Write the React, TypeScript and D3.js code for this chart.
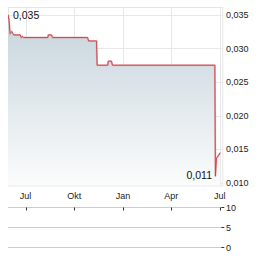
import React from "react";
import * as d3 from "d3";

const priceDates = [
  "2023-05-29", "2023-05-31", "2023-06-02", "2023-06-05", "2023-06-07", "2023-06-09",
  "2023-06-21", "2023-06-23", "2023-06-25", "2023-06-27", "2023-08-12", "2023-08-13",
  "2023-08-19", "2023-08-21", "2023-10-26", "2023-10-28", "2023-11-12", "2023-11-13",
  "2023-12-03", "2023-12-04", "2023-12-10", "2023-12-12", "2024-06-22", "2024-06-23",
  "2024-06-25", "2024-06-28", "2024-07-02",
];
const priceValues = [
  0.0350, 0.0342, 0.0322, 0.0325, 0.0322, 0.0320,
  0.0320, 0.0316, 0.0318, 0.0316, 0.0316, 0.0320,
  0.0320, 0.0316, 0.0316, 0.0311, 0.0311, 0.0275,
  0.0275, 0.0281, 0.0281, 0.0275, 0.0275, 0.0110,
  0.0137, 0.0140, 0.0145,
];
const priceTicks = [0.010, 0.015, 0.020, 0.025, 0.030, 0.035];
const volumeTicks = [0, 5, 10];
const monthTicks = ["2023-07-01", "2023-10-01", "2024-01-01", "2024-04-01", "2024-07-01"];
const monthLabels = ["Jul", "Okt", "Jan", "Apr", "Jul"];
const maxLabel = "0,035";
const minLabel = "0,011";

const parse = d3.timeParse("%Y-%m-%d");

export default function App() {
  const W = 264, H = 255;
  const left = 8, right = 222.3, top = 7, bottom = 185.5;
  const x = d3.scaleTime()
    .domain([parse("2023-05-29")!, parse("2024-07-06")!])
    .range([left, right]);
  const y = d3.scaleLinear().domain([0.010, 0.035]).range([183, 14.7]);
  const yv = d3.scaleLinear().domain([0, 10]).range([247.3, 206.7]);

  const data = priceDates.map((d, i) => ({ d: parse(d)!, v: priceValues[i] }));
  const line = d3.line<{ d: Date; v: number }>().x(p => x(p.d)).y(p => y(p.v));
  const area = d3.area<{ d: Date; v: number }>().x(p => x(p.d)).y0(bottom).y1(p => y(p.v));
  const fmt = (v: number) => d3.format(".3f")(v).replace(".", ",");
  const font = "Liberation Sans, Arial, sans-serif";

  const maxI = d3.maxIndex(priceValues);
  const minI = d3.minIndex(priceValues);

  return (
    <svg width={W} height={H} style={{ position: "absolute", left: 0, top: 0 }} fontFamily={font}>
      <defs>
        <linearGradient id="fillg" x1="0" y1="0" x2="0" y2="1">
          <stop offset="0" stopColor="#c6d3dc" />
          <stop offset="1" stopColor="#fbfcfc" />
        </linearGradient>
        <clipPath id="clip"><rect x={left} y={top} width={right - left} height={bottom - top} /></clipPath>
      </defs>
      {/* grid */}
      {priceTicks.map(t => (
        <line key={t} x1={left} x2={right} y1={Math.round(y(t)) + 0.5} y2={Math.round(y(t)) + 0.5} stroke="#e8e8e8" />
      ))}
      {monthTicks.map(t => {
        const xx = Math.round(x(parse(t)!)) + 0.5;
        return <line key={t} x1={xx} x2={xx} y1={top} y2={bottom} stroke="#e8e8e8" />;
      })}
      <rect x={left + 0.5} y={top + 0.5} width={right - left} height={bottom - top} fill="none" stroke="#e6e6e6" />
      <g clipPath="url(#clip)">
        <path d={area(data)!} fill="url(#fillg)" />
        <path d={line(data)!} fill="none" stroke="#e4a0a0" strokeWidth={2} opacity={0.6} />
        <path d={line(data)!} fill="none" stroke="#c8444a" strokeWidth={1} />
      </g>
      {/* y axis labels */}
      {priceTicks.map(t => (
        <text key={t} x={226} y={y(t)} dy="0.35em" fontSize={9} fill="#222">{fmt(t)}</text>
      ))}
      {/* annotations */}
      <text x={13} y={y(priceValues[maxI]) + 1} dy="0.35em" fontSize={10.5} fill="#111">{maxLabel}</text>
      <text x={212} y={y(priceValues[minI]) - 1} dy="0.35em" fontSize={10.5} fill="#111" textAnchor="end">{minLabel}</text>
      {/* x labels */}
      {monthTicks.map((t, i) => (
        <text key={t} x={x(parse(t)!)} y={196} dy="0.35em" fontSize={9} fill="#222" textAnchor="middle">{monthLabels[i]}</text>
      ))}
      {/* volume panel */}
      {volumeTicks.map(t => {
        const yy = Math.round(yv(t)) + 0.5;
        return (
          <g key={t}>
            <line x1={left} x2={right - 1} y1={yy} y2={yy} stroke="#cccccc" />
            <line x1={right - 1} x2={right + 2} y1={yy} y2={yy} stroke="#333" />
            <text x={226} y={yy} dy="0.35em" fontSize={9} fill="#222">{t}</text>
          </g>
        );
      })}
      {monthTicks.map(t => {
        const xx = Math.round(x(parse(t)!)) + 0.5;
        const yy = Math.round(yv(10)) + 0.5;
        return <line key={t} x1={xx} x2={xx} y1={yy} y2={yy + 3} stroke="#333" />;
      })}
    </svg>
  );
}
